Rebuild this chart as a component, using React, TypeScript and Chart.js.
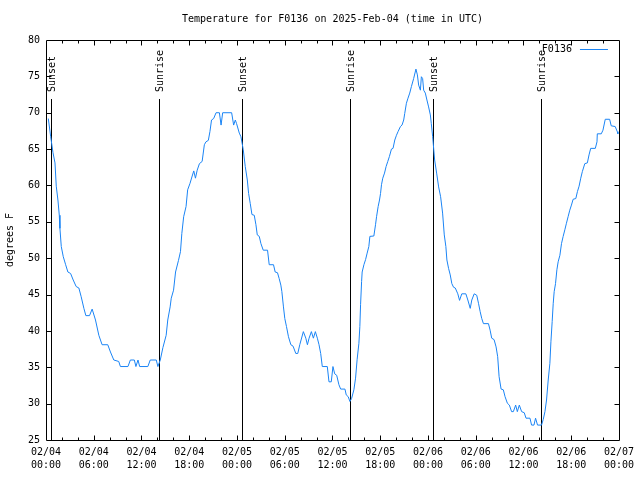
import React, { useEffect, useRef } from "react";
import { Chart, registerables } from "chart.js";

Chart.register(...registerables);

const titleText = "Temperature for F0136 on 2025-Feb-04 (time in UTC)";
const yAxisTitle = "degrees F";
const seriesName = "F0136";

const xTickDates = ["02/04", "02/04", "02/04", "02/04", "02/05", "02/05", "02/05", "02/05", "02/06", "02/06", "02/06", "02/06", "02/07"];
const xTickTimes = ["00:00", "06:00", "12:00", "18:00", "00:00", "06:00", "12:00", "18:00", "00:00", "06:00", "12:00", "18:00", "00:00"];

const sunHours = [0.59, 14.15, 24.6, 38.15, 48.6, 62.15];
const sunLabels = ["Sunset", "Sunrise", "Sunset", "Sunrise", "Sunset", "Sunrise"];

// hours since 2025-02-04 00:00 UTC
const hours = [
  0.29, 0.59, 0.88, 1.13, 1.29, 1.5, 1.67, 1.75, 1.92, 2.17, 2.47, 2.75, 3.09, 3.42, 3.79, 4.13, 4.42, 4.76, 5.01, 5.47,
  5.8, 6.22, 6.64, 7.05, 7.76, 8.1, 8.52, 9.14, 9.35, 10.3, 10.6, 11.1, 11.3, 11.56, 11.77, 12.8, 13.1, 13.86, 14.06, 14.36,
  14.69, 15.1, 15.3, 15.6, 15.74, 16.03, 16.28, 16.65, 16.9, 17.07, 17.3, 17.6, 17.8, 18.1, 18.37, 18.57, 18.78, 19.0, 19.28, 19.62,
  19.9, 20.1, 20.4, 20.6, 20.8, 21.07, 21.37, 21.79, 22.0, 22.2, 23.33, 23.58, 23.79, 23.95, 24.29, 24.5, 24.79, 25.04, 25.3, 25.46,
  25.67, 25.88, 26.17, 26.38, 26.55, 26.8, 27.01, 27.3, 27.84, 28.05, 28.59, 28.8, 29.09, 29.3, 29.51, 29.64, 29.84, 30.01, 30.22, 30.47,
  30.77, 31.05, 31.39, 31.64, 31.89, 32.34, 32.65, 32.85, 33.06, 33.35, 33.6, 33.85, 34.1, 34.31, 34.52, 34.72, 35.35, 35.56, 35.85, 36.06,
  36.28, 36.53, 36.81, 37.03, 37.57, 37.73, 37.98, 38.19, 38.4, 38.69, 38.9, 39.1, 39.32, 39.44, 39.53, 39.66, 39.73, 39.95, 40.16, 40.36,
  40.57, 40.7, 41.2, 41.41, 41.54, 41.74, 41.91, 42.04, 42.16, 42.32, 42.54, 42.74, 42.95, 43.16, 43.41, 43.61, 43.83, 44.04, 44.24, 44.54,
  44.74, 44.95, 45.08, 45.29, 45.49, 45.71, 45.92, 46.2, 46.49, 46.67, 46.83, 47.05, 47.17, 47.33, 47.46, 47.67, 47.87, 48.08, 48.3, 48.42,
  48.59, 48.84, 49.09, 49.34, 49.59, 49.84, 50.05, 50.25, 50.38, 50.59, 50.8, 51.0, 51.22, 51.43, 51.75, 51.97, 52.25, 52.76, 53.01, 53.31,
  53.51, 53.81, 54.13, 54.35, 54.56, 54.76, 54.97, 55.6, 55.81, 56.01, 56.31, 56.56, 56.76, 56.94, 57.19, 57.47, 57.69, 57.98, 58.23, 58.51,
  58.73, 59.02, 59.23, 59.48, 59.77, 60.1, 60.32, 60.82, 61.02, 61.32, 61.52, 61.77, 62.27, 62.48, 62.7, 62.9, 63.11, 63.32, 63.45, 63.61,
  63.74, 63.86, 64.03, 64.2, 64.36, 64.58, 64.78, 64.99, 65.2, 65.4, 65.61, 65.82, 66.03, 66.24, 66.58, 66.78, 66.99, 67.2, 67.4, 67.71,
  68.03, 68.24, 68.45, 69.03, 69.24, 69.28, 69.78, 69.99, 70.28, 70.83, 71.03, 71.53, 71.79, 71.87,
];

const temps = [
  69.2, 66.7, 64.5, 63.1, 59.9, 58.0, 55.9, 54.1, 51.6, 50.2, 49.1, 48.1, 47.9, 47.0, 46.1, 45.9, 44.7, 43.1, 42.1, 42.1,
  43.0, 41.5, 39.4, 38.1, 38.1, 37.1, 36.0, 35.8, 35.1, 35.1, 36.0, 36.0, 35.1, 36.0, 35.1, 35.1, 36.0, 36.0, 35.1, 36.0,
  37.7, 39.4, 41.5, 43.3, 44.5, 45.6, 48.1, 49.7, 50.9, 53.4, 55.7, 57.1, 59.4, 60.3, 61.3, 62.0, 61.0, 62.1, 63.0, 63.3,
  65.6, 66.0, 66.2, 67.4, 69.0, 69.2, 70.0, 70.0, 68.3, 70.0, 70.0, 68.3, 69.0, 68.5, 67.2, 66.7, 64.9, 62.6, 60.75, 58.9,
  57.5, 56.0, 55.9, 54.6, 53.2, 53.0, 52.0, 51.1, 51.1, 49.1, 49.1, 48.1, 48.0, 47.2, 46.3, 45.4, 43.3, 41.7, 40.6, 39.2,
  38.1, 37.9, 36.9, 36.9, 38.1, 39.9, 39.0, 38.1, 39.0, 39.9, 39.0, 39.9, 39.0, 38.1, 36.9, 35.1, 35.1, 33.0, 33.0, 35.1,
  34.1, 33.9, 32.6, 32.0, 32.0, 31.2, 30.95, 30.3, 30.7, 31.9, 33.5, 36.1, 38.3, 40.6, 43.6, 46.8, 48.1, 49.1, 49.8, 50.7,
  51.6, 53.0, 53.05, 54.6, 55.7, 57.1, 58.0, 58.9, 60.1, 61.0, 61.7, 62.6, 63.3, 64.0, 65.0, 65.1, 66.25, 66.9, 67.4, 68.1,
  68.3, 69.0, 69.9, 71.3, 72.0, 72.7, 73.6, 74.7, 76.0, 75.2, 73.8, 73.1, 74.95, 74.7, 73.1, 72.7, 71.75, 70.8, 69.7, 68.5,
  66.7, 63.5, 61.7, 59.8, 58.45, 56.2, 53.2, 51.6, 49.75, 48.6, 47.7, 46.5, 46.0, 45.9, 45.1, 44.2, 45.1, 45.1, 44.25, 43.1,
  44.25, 45.1, 44.9, 43.8, 42.65, 41.7, 41.0, 41.0, 40.1, 39.0, 38.8, 37.8, 36.45, 33.7, 32.0, 31.9, 30.95, 30.05, 29.8, 28.9,
  28.9, 29.8, 28.9, 29.8, 28.9, 28.75, 28.0, 28.0, 27.05, 27.05, 28.0, 27.05, 27.05, 27.8, 28.9, 30.5, 33.25, 35.55, 38.5, 41.3,
  43.8, 45.4, 46.5, 48.4, 49.5, 50.4, 52.0, 53.0, 53.9, 54.8, 55.7, 56.6, 57.3, 58.1, 58.2, 59.15, 59.9, 61.0, 61.9, 63.0,
  63.1, 64.2, 65.1, 65.1, 66.0, 67.1, 67.1, 67.6, 69.1, 69.1, 68.2, 68.1, 67.4, 67.1,
];

const FONT = '10px "DejaVu Sans Mono"';
const LINE_COLOR = "#1a84f5";

const decorPlugin = {
  id: "gnuplotDecor",
  beforeDatasetsDraw(chart: any) {
    const { ctx, chartArea: a, scales } = chart;
    const xs = scales.x;
    const topY = Math.round(a.top + (a.bottom - a.top) * 0.1475);
    ctx.save();
    ctx.strokeStyle = "#000";
    ctx.lineWidth = 1;
    ctx.fillStyle = "#000";
    ctx.font = FONT;
    sunHours.forEach((h, i) => {
      const px = Math.round(xs.getPixelForValue(h)) + 0.5;
      ctx.beginPath();
      ctx.moveTo(px, a.bottom);
      ctx.lineTo(px, topY);
      ctx.stroke();
      ctx.save();
      ctx.translate(px + 1, topY - 7);
      ctx.rotate(-Math.PI / 2);
      ctx.textAlign = "left";
      ctx.textBaseline = "middle";
      ctx.fillText(sunLabels[i], 0, 0);
      ctx.restore();
    });
    ctx.restore();
  },
  afterDraw(chart: any) {
    const { ctx, chartArea: a, scales } = chart;
    const xs = scales.x;
    const ys = scales.y;
    const L = Math.round(a.left) + 0.5;
    const R = Math.round(a.right) + 0.5;
    const T = Math.round(a.top) + 0.5;
    const B = Math.round(a.bottom) + 0.5;
    ctx.save();
    ctx.strokeStyle = "#000";
    ctx.lineWidth = 1;
    ctx.beginPath();
    ctx.rect(L, T, R - L, B - T);
    ctx.stroke();
    // x ticks (inward, mirrored)
    ctx.beginPath();
    for (let h = 2; h < 72; h += 2) {
      const len = h % 6 === 0 ? 5 : 3;
      const px = Math.round(xs.getPixelForValue(h)) + 0.5;
      ctx.moveTo(px, B);
      ctx.lineTo(px, B - len);
      ctx.moveTo(px, T);
      ctx.lineTo(px, T + len);
    }
    for (let v = 30; v < 80; v += 5) {
      const py = Math.round(ys.getPixelForValue(v)) + 0.5;
      ctx.moveTo(L, py);
      ctx.lineTo(L + 5, py);
      ctx.moveTo(R, py);
      ctx.lineTo(R - 5, py);
    }
    ctx.stroke();
    // legend
    ctx.font = FONT;
    ctx.fillStyle = "#000";
    ctx.textAlign = "right";
    ctx.textBaseline = "middle";
    const ly = Math.round(a.top + 9) + 0.5;
    ctx.fillText(seriesName, a.right - 47, ly);
    ctx.strokeStyle = LINE_COLOR;
    ctx.beginPath();
    ctx.moveTo(a.right - 39, ly);
    ctx.lineTo(a.right - 11, ly);
    ctx.stroke();
    // title
    ctx.textAlign = "center";
    ctx.fillText(titleText, (a.left + a.right) / 2, 19);
    // y axis title
    ctx.save();
    ctx.translate(10, (a.top + a.bottom) / 2);
    ctx.rotate(-Math.PI / 2);
    ctx.textAlign = "center";
    ctx.textBaseline = "middle";
    ctx.fillText(yAxisTitle, 0, 0);
    ctx.restore();
    ctx.restore();
  },
};

export default function App() {
  const ref = useRef<HTMLCanvasElement | null>(null);
  useEffect(() => {
    if (!ref.current) return;
    const points = hours.map((h, i) => ({ x: h, y: temps[i] }));
    const chart = new Chart(ref.current, {
      type: "line",
      data: {
        datasets: [
          {
            label: seriesName,
            data: points,
            borderColor: LINE_COLOR,
            borderWidth: 1,
            pointRadius: 0,
            tension: 0,
            fill: false,
          },
        ],
      },
      options: {
        animation: false,
        responsive: false,
        devicePixelRatio: 1,
        layout: { padding: { top: 40, right: 19, left: 0, bottom: 0 } },
        plugins: {
          legend: { display: false },
          tooltip: { enabled: false },
          title: { display: false },
        },
        scales: {
          x: {
            type: "linear",
            min: 0,
            max: 72,
            grid: { display: false, drawTicks: false },
            border: { display: false },
            afterFit(scale: any) {
              scale.height = 40;
            },
            ticks: {
              stepSize: 6,
              autoSkip: false,
              maxRotation: 0,
              minRotation: 0,
              padding: 6,
              color: "#000",
              font: { family: "DejaVu Sans Mono", size: 10, lineHeight: 1.3 },
              callback: (value: any) => {
                const idx = Math.round(Number(value) / 6);
                return [xTickDates[idx], xTickTimes[idx]];
              },
            },
          },
          y: {
            min: 25,
            max: 80,
            grid: { display: false, drawTicks: false },
            border: { display: false },
            afterFit(scale: any) {
              scale.width = 46;
            },
            ticks: {
              stepSize: 5,
              padding: 6,
              color: "#000",
              font: { family: "DejaVu Sans Mono", size: 10 },
            },
          },
        },
      },
      plugins: [decorPlugin],
    });
    return () => chart.destroy();
  }, []);
  return (
    <div style={{ position: "absolute", left: 0, top: 0, width: 640, height: 480, background: "#fff" }}>
      <canvas ref={ref} width={640} height={480} style={{ display: "block" }} />
    </div>
  );
}
